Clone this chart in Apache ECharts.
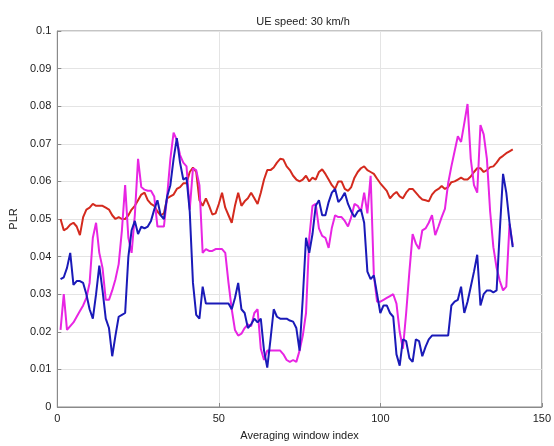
<!DOCTYPE html>
<html>
<head>
<meta charset="utf-8">
<script src="https://cdn.jsdelivr.net/npm/echarts@6/dist/echarts.min.js"></script>
<style>
  html, body { margin: 0; padding: 0; background: #fff; }
  #chart { width: 554px; height: 446px; }
</style>
</head>
<body>
<div id="chart"></div>
<script>
// x 轴刻度与 y 轴刻度
const xTicks = [0, 50, 100, 150];
const yTicks = [0, 0.01, 0.02, 0.03, 0.04, 0.05, 0.06, 0.07, 0.08, 0.09, 0.1];

// 三条曲线（窗口序号 1..141）
const redPLR = [
  .050, .047, .0475, .0485, .049, .048, .0457, .0505, .0525, .053,
  .054, .0535, .0535, .0535, .053, .0525, .051, .050, .0505, .050,
  .050, .051, .0525, .0535, .055, .0565, .057, .055, .054, .0535,
  .052, .051, .0515, .0555, .056, .0565, .058, .0585, .0595, .0595,
  .0625, .0637, .0625, .055, .0535, .0555, .0535, .0512, .0515, .054,
  .057, .053, .051, .049, .0535, .057, .0535, .0547, .0555, .057,
  .0555, .054, .057, .0605, .063, .063, .0637, .065, .066, .0658,
  .064, .063, .0615, .0605, .060, .0605, .0615, .060, .061, .0605,
  .0625, .0632, .062, .0605, .059, .058, .060, .060, .058, .0575,
  .0585, .061, .0625, .0635, .064, .063, .0625, .062, .0607, .0595,
  .0585, .0575, .0555, .0565, .0572, .056, .0555, .057, .058, .058,
  .057, .056, .0552, .055, .0547, .0565, .0575, .058, .0588, .058,
  .0585, .0598, .060, .0605, .061, .0605, .0605, .0613, .0625, .0635,
  .0635, .0625, .063, .0638, .064, .065, .0662, .0668, .0675, .068,
  .0685
];
const bluePLR = [
  .034, .0345, .037, .041, .0325, .0335, .0335, .033, .030, .026,
  .0235, .030, .0376, .031, .0235, .021, .0135, .019, .024, .0245,
  .025, .040, .047, .0495, .046, .048, .0475, .048, .0495, .0525,
  .055, .051, .050, .056, .059, .066, .0715, .065, .0605, .061,
  .052, .033, .0245, .0235, .032, .0275, .0275, .0275, .0275, .0275,
  .0275, .0275, .0275, .026, .029, .033, .026, .025, .021, .022,
  .0235, .0225, .0235, .015, .0105, .018, .026, .024, .0235, .0235,
  .0235, .023, .0227, .021, .015, .029, .045, .041, .046, .0535,
  .055, .051, .051, .0545, .057, .058, .0545, .0555, .057, .054,
  .052, .0505, .052, .0525, .049, .036, .034, .035, .030, .025,
  .027, .027, .025, .024, .014, .011, .018, .0175, .013, .012,
  .018, .0175, .0135, .016, .018, .019, .019, .019, .019, .019,
  .019, .027, .028, .0285, .032, .025, .028, .032, .036, .0405,
  .027, .030, .031, .031, .0305, .031, .047, .062, .057, .049,
  .0425
];
const magentaPLR = [
  .0205, .030, .0205, .0215, .0225, .024, .0255, .027, .029, .033,
  .045, .049, .041, .037, .0285, .0285, .031, .034, .038, .047,
  .059, .045, .041, .051, .066, .0585, .0578, .0575, .0575, .056,
  .048, .048, .048, .056, .066, .073, .071, .067, .065, .064,
  .0525, .0635, .063, .059, .041, .042, .0415, .0415, .042, .042,
  .042, .041, .033, .026, .0205, .019, .0195, .021, .022, .0215,
  .025, .026, .0155, .0125, .015, .015, .015, .015, .015, .014,
  .0125, .012, .0125, .012, .015, .019, .025, .045, .0535, .054,
  .0475, .0455, .045, .0423, .0477, .051, .0505, .0505, .0495, .048,
  .0505, .054, .0535, .052, .057, .0515, .0615, .035, .028, .028,
  .0285, .029, .0295, .030, .0275, .020, .0155, .025, .036, .046,
  .0435, .042, .047, .0475, .049, .051, .0457, .048, .0505, .0527,
  .0595, .064, .068, .072, .0705, .0755, .0806, .066, .059, .057,
  .075, .0725, .066, .052, .0425, .037, .0335, .031, .032, .0487,
  .043
];

const toPairs = arr => arr.map((v, i) => [i + 1, v]);
const font = 'Liberation Sans, Arial, sans-serif';

const chart = echarts.init(document.getElementById('chart'), null, { renderer: 'canvas' });

const makeLine = (name, data, color) => ({
    name: name,
    type: 'line',
    data: toPairs(data),
    showSymbol: false,
    symbol: 'none',
    lineStyle: { color: color, width: 2 },
    itemStyle: { color: color },
    animation: false
});

chart.setOption({
    backgroundColor: '#fff',
    animation: false,
    title: {
        text: 'UE speed: 30 km/h',
        left: 298,
        top: 11,
        textAlign: 'center',
        textStyle: { fontFamily: font, fontSize: 11, fontWeight: 'normal', color: '#222' }
    },
    grid: {
        left: 52,
        right: 10,
        top: 31,
        bottom: 28,
        show: true,
        borderColor: '#8a8a8a',
        borderWidth: 1,
        backgroundColor: '#fff'
    },
    xAxis: {
        type: 'value',
        min: xTicks[0],
        max: xTicks[xTicks.length - 1],
        interval: 50,
        name: 'Averaging window index',
        nameLocation: 'middle',
        nameGap: 23,
        nameTextStyle: { fontFamily: font, fontSize: 11, color: '#222' },
        axisLine: { show: true, lineStyle: { color: '#8a8a8a' } },
        axisTick: { show: true, inside: true, length: 4, lineStyle: { color: '#8a8a8a' } },
        axisLabel: { fontFamily: font, fontSize: 11, color: '#222', margin: 6 },
        splitLine: { show: true, lineStyle: { color: '#e4e4e4', width: 1 } }
    },
    yAxis: {
        type: 'value',
        min: yTicks[0],
        max: yTicks[yTicks.length - 1],
        interval: 0.01,
        name: 'PLR',
        nameLocation: 'middle',
        nameGap: 33,
        nameRotate: 90,
        nameTextStyle: { fontFamily: font, fontSize: 11, color: '#222' },
        axisLine: { show: true, lineStyle: { color: '#8a8a8a' } },
        axisTick: { show: true, inside: true, length: 4, lineStyle: { color: '#8a8a8a' } },
        axisLabel: {
            fontFamily: font, fontSize: 11, color: '#222', margin: 6,
            formatter: v => String(+v.toFixed(2))
        },
        splitLine: { show: true, lineStyle: { color: '#e4e4e4', width: 1 } }
    },
    series: [
        makeLine('red', redPLR, '#d42a1e'),
        makeLine('magenta', magentaPLR, '#e825e3'),
        makeLine('blue', bluePLR, '#1a1ab8')
    ]
});
</script>
</body>
</html>
